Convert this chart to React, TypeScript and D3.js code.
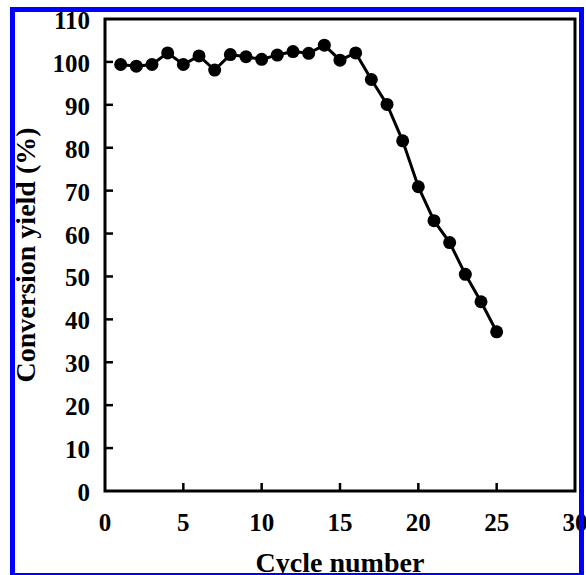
import * as d3 from "d3";

const cycles = [1, 2, 3, 4, 5, 6, 7, 8, 9, 10, 11, 12, 13, 14, 15, 16, 17, 18, 19, 20, 21, 22, 23, 24, 25];
const yields = [
  99.4, 99.0, 99.4, 102.1, 99.4, 101.4, 98.1, 101.7, 101.2, 100.6, 101.6, 102.4, 102.0,
  103.9, 100.4, 102.1, 95.9, 90.1, 81.6, 70.9, 63.0, 57.9, 50.5, 44.1, 37.1,
];
const xTicks = [0, 5, 10, 15, 20, 25, 30];
const yTicks = [0, 10, 20, 30, 40, 50, 60, 70, 80, 90, 100, 110];

const W = 586;
const H = 575;
const margin = { left: 105, right: 11, top: 19, bottom: 84 };
const font = "'Liberation Serif', 'Times New Roman', serif";

export default function App() {
  const x = d3.scaleLinear().domain([0, 30]).range([margin.left, W - margin.right]);
  const y = d3.scaleLinear().domain([0, 110]).range([H - margin.bottom, margin.top]);
  const pts = cycles.map((c, i) => ({ c, v: yields[i] }));
  const line = d3
    .line<{ c: number; v: number }>()
    .x((d) => x(d.c))
    .y((d) => y(d.v));

  const x0 = x(0), x1 = x(30), y0 = y(0), y1 = y(110);

  return (
    <svg
      width={W}
      height={H}
      style={{ position: "absolute", left: 0, top: 0, background: "#fff" }}
      fontFamily={font}
      fontWeight="bold"
    >
      {/* plot frame */}
      <rect x={x0} y={y1} width={x1 - x0} height={y0 - y1} fill="none" stroke="#000" strokeWidth={3} />

      {/* y ticks */}
      {yTicks.map((t) => (
        <g key={"y" + t}>
          {t > 0 && t < 110 && (
            <line x1={x0} x2={x0 + 8} y1={y(t)} y2={y(t)} stroke="#000" strokeWidth={2.5} />
          )}
          <text x={90} y={y(t) + 1.5} textAnchor="end" dominantBaseline="central" fontSize={25}>
            {t}
          </text>
        </g>
      ))}

      {/* x ticks */}
      {xTicks.map((t) => (
        <g key={"x" + t}>
          {t > 0 && t < 30 && (
            <line x1={x(t)} x2={x(t)} y1={y0} y2={y0 - 8} stroke="#000" strokeWidth={2.5} />
          )}
          <text x={x(t)} y={531} textAnchor="middle" fontSize={25}>
            {t}
          </text>
        </g>
      ))}

      {/* series */}
      <path d={line(pts) ?? ""} fill="none" stroke="#000" strokeWidth={3} />
      {pts.map((d) => (
        <circle key={d.c} cx={x(d.c)} cy={y(d.v)} r={6.5} fill="#000" />
      ))}

      {/* axis titles */}
      <text x={340} y={572} textAnchor="middle" fontSize={28}>
        Cycle number
      </text>
      <text
        transform={`translate(35,${(y0 + y1) / 2}) rotate(-90)`}
        textAnchor="middle"
        fontSize={28}
      >
        Conversion yield (%)
      </text>

      {/* outer border */}
      <rect x={12.5} y={9.5} width={569} height={566} fill="none" stroke="#0000ff" strokeWidth={5} />
    </svg>
  );
}
